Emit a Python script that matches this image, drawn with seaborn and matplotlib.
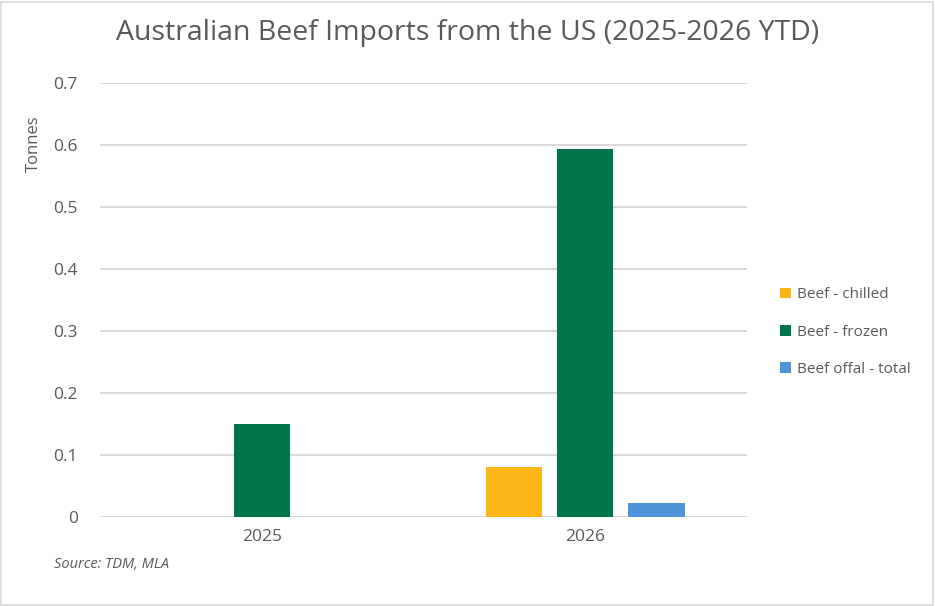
import pandas as pd
import seaborn as sns
import matplotlib.pyplot as plt
from matplotlib.patches import Rectangle

# datos
anios = ["2025", "2026"]
productos = ["Beef - chilled", "Beef - frozen", "Beef offal - total"]
chilled = [0.0, 0.08]
frozen = [0.15, 0.594]
offal = [0.0, 0.022]
colores = ["#FBB516", "#00754A", "#4E95D9"]

filas = []
for i, a in enumerate(anios):
    for p, v in zip(productos, [chilled[i], frozen[i], offal[i]]):
        filas.append({"anio": a, "producto": p, "tonnes": v})
df = pd.DataFrame(filas)

sns.set_style("white")
plt.rcParams['font.family'] = ['Open Sans', 'DejaVu Sans']
gris = "#595959"

fig = plt.figure(figsize=(9.35, 6.06), dpi=100)
ax = fig.add_axes([0.107, 0.147, 0.692, 0.716])

sns.barplot(data=df, x="anio", y="tonnes", hue="producto", hue_order=productos,
            palette=colores, width=0.66, gap=0.21, saturation=1, ax=ax, zorder=3,
            linewidth=0)

ax.set_ylim(0, 0.7)
ax.set_xlim(-0.5, 1.5)
ax.set_yticks([0, 0.1, 0.2, 0.3, 0.4, 0.5, 0.6, 0.7])
ax.set_yticklabels(["0", "0.1", "0.2", "0.3", "0.4", "0.5", "0.6", "0.7"])
ax.grid(axis="y", color="#d9d9d9", linewidth=1.4, zorder=0)
ax.set_axisbelow(True)
for s in ax.spines.values():
    s.set_visible(False)
ax.tick_params(axis="both", length=0, colors=gris, labelsize=12.5)
ax.tick_params(axis="y", pad=16)
ax.tick_params(axis="x", pad=9)

ax.set_xlabel("")
ax.set_ylabel("Tonnes", color=gris, fontsize=12)
ax.yaxis.set_label_coords(-0.09, 0.86)

fig.suptitle("Australian Beef Imports from the US (2025-2026 YTD)", color=gris,
             fontsize=20.5, y=0.968)

ax.legend(loc="center left", bbox_to_anchor=(1.03, 0.426), frameon=False,
          fontsize=11, labelcolor=gris, handlelength=0.7, handleheight=0.7,
          handletextpad=0.4, labelspacing=1.45)

fig.text(0.058, 0.063, "Source: TDM, MLA", style="italic", color=gris, fontsize=10.5)

fig.patches.append(Rectangle((0.001, 0.002), 0.997, 0.995, transform=fig.transFigure,
                             fill=False, edgecolor="#d9d9d9", linewidth=1.2))

fig.savefig("out.png", dpi=100)
